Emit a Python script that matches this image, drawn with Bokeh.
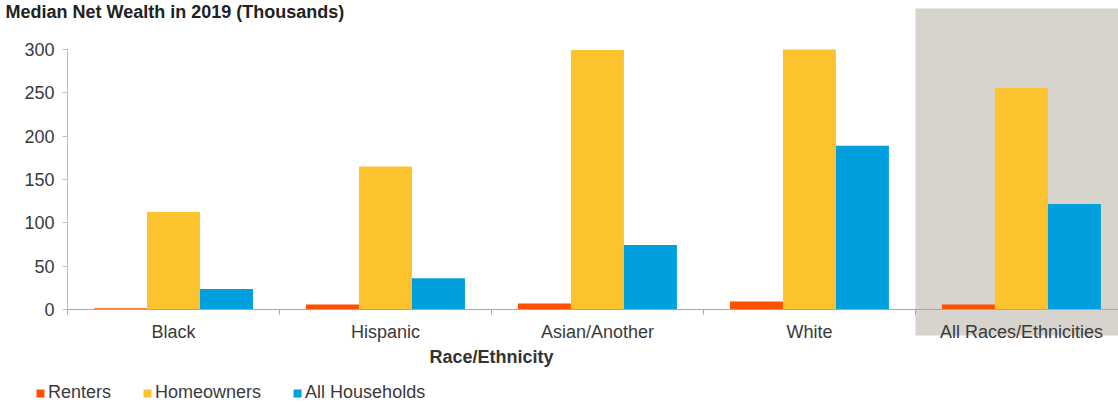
from bokeh.plotting import figure
from bokeh.models import (ColumnDataSource, Range1d, FixedTicker, LinearAxis,
                          BoxAnnotation, Legend, LegendItem, Label)
from bokeh.transform import dodge
from bokeh.embed import file_html
from bokeh.resources import INLINE

# ---- data ----
categories = ["Black", "Hispanic", "Asian/Another", "White", "All Races/Ethnicities"]
renters = [1.5, 5.8, 7.0, 9.3, 5.8]
homeowners = [112.5, 165.0, 299.5, 300.0, 255.5]
all_households = [23.7, 36.0, 74.5, 189.0, 121.6]
y_ticks = [0, 50, 100, 150, 200, 250, 300]

series_names = ["Renters", "Homeowners", "All Households"]
series_colors = ["#fe5000", "#fdc32f", "#00a0de"]

FONT = "Liberation Sans"
TXT = "#3a3a3a"
FS = "18px"

src = ColumnDataSource(dict(
    x=list(range(len(categories))),
    renters=renters,
    homeowners=homeowners,
    all_households=all_households,
))

p = figure(width=1118, height=402, output_backend="svg", toolbar_location=None,
           x_range=Range1d(-0.316, 4.958), y_range=Range1d(-107.3, 356.5),
           min_border_left=0, min_border_right=0, min_border_top=0, min_border_bottom=0,
           x_axis_type=None, y_axis_type=None)
p.outline_line_color = None
p.background_fill_color = "white"
p.border_fill_color = "white"

# shaded "All" region
shade = BoxAnnotation(left=4, bottom=-30, top=347.3, fill_color="#d7d3cd", fill_alpha=1.0,
                      line_color=None, level="image")
p.add_layout(shade)

# grid
p.ygrid.ticker = FixedTicker(ticks=y_ticks[1:])
p.ygrid.grid_line_color = "#c6c6c6"
p.ygrid.grid_line_dash = "4 3"
p.ygrid.grid_line_width = 1
p.ygrid.level = "underlay"
p.xgrid.grid_line_color = None

# white mask to keep grid lines right of the y axis
mask = BoxAnnotation(right=0, fill_color="white", fill_alpha=1.0, line_color=None,
                     level="glyph")
p.add_layout(mask)

# y axis fixed at x=0 inside the frame
yax = LinearAxis(ticker=FixedTicker(ticks=y_ticks), bounds=(0, 300), fixed_location=0)
yax.axis_line_color = "#bdbdbd"
yax.major_tick_line_color = "#bdbdbd"
yax.major_tick_out = 5
yax.major_tick_in = 0
yax.minor_tick_line_color = None
yax.major_label_standoff = 8
yax.major_label_text_font = FONT
yax.major_label_text_font_size = FS
yax.major_label_text_color = TXT
p.add_layout(yax, "left")

# x axes fixed at y=0 inside the frame
def make_xaxis(ticks, minor, bounds, label):
    ax = LinearAxis(ticker=FixedTicker(ticks=ticks, minor_ticks=minor), bounds=bounds,
                    fixed_location=0)
    ax.major_label_overrides = {tk: categories[int(tk)] for tk in ticks}
    ax.axis_line_color = "#a8a8a8"
    ax.major_tick_line_color = None
    ax.minor_tick_line_color = "#a8a8a8"
    ax.minor_tick_out = 5
    ax.minor_tick_in = 0
    ax.major_tick_out = 0
    ax.major_tick_in = 0
    ax.major_label_standoff = 8
    ax.major_label_text_font = FONT
    ax.major_label_text_font_size = FS
    ax.major_label_text_color = TXT
    if label:
        ax.axis_label = label
        ax.axis_label_text_font = FONT
        ax.axis_label_text_font_size = FS
        ax.axis_label_text_font_style = "bold"
        ax.axis_label_text_color = "#333333"
        ax.axis_label_standoff = 1
    return ax

ax1 = make_xaxis([0.5, 1.5, 2.5, 3.5], [0, 1, 2, 3, 4], (0, 4), "Race/Ethnicity")
ax2 = make_xaxis([4.5], [4], (4, 5), None)
p.add_layout(ax1, "below")
p.add_layout(ax2, "below")

# bars
fields = ["renters", "homeowners", "all_households"]
offsets = [0.25, 0.5, 0.75]
renderers = []
for f, off, col in zip(fields, offsets, series_colors):
    r = p.vbar(x=dodge("x", off, range=p.x_range), top=f, bottom=0, width=0.25,
               source=src, fill_color=col, line_color=None)
    renderers.append(r)

# title
title = Label(x=-0.2925, y=343.5, text="Median Net Wealth in 2019 (Thousands)",
              text_font=FONT, text_font_size=FS, text_font_style="bold",
              text_color="#222222", text_baseline="alphabetic", text_align="left")
p.add_layout(title)

legend = Legend(items=[LegendItem(label=n, renderers=[r]) for n, r in zip(series_names, renderers)],
                orientation="horizontal", location=(35, -1))
legend.glyph_width = 10
legend.glyph_height = 10
legend.label_standoff = 3
legend.spacing = 31
legend.padding = 0
legend.margin = 0
legend.border_line_color = None
legend.background_fill_alpha = 0
legend.label_text_font = FONT
legend.label_text_font_size = FS
legend.label_text_color = TXT
legend.label_height = 20
p.add_layout(legend, "center")

open("out.html", "w").write(file_html(p, INLINE))
